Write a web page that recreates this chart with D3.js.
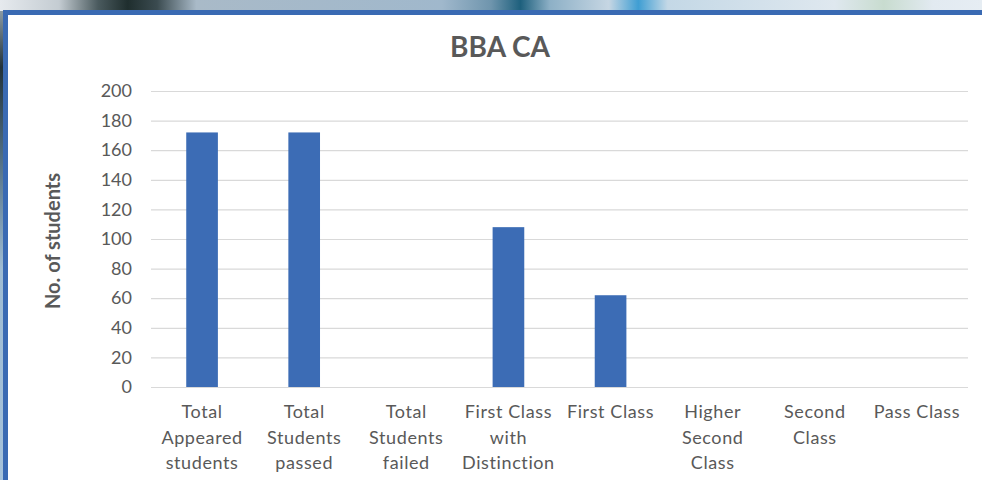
<!DOCTYPE html>
<html>
<head>
<meta charset="utf-8">
<script src="https://cdn.jsdelivr.net/npm/d3@7"></script>
<style>
  html, body { margin: 0; padding: 0; background: #fff; }
  svg { display: block; }
  text { font-family: Lato, "Open Sans", sans-serif; }
</style>
</head>
<body>
<svg id="chart" width="982" height="480"></svg>
<script>
// Results of the BBA CA batch
const categories = [
  ["Total", "Appeared", "students"],
  ["Total", "Students", "passed"],
  ["Total", "Students", "failed"],
  ["First Class", "with", "Distinction"],
  ["First Class"],
  ["Higher", "Second", "Class"],
  ["Second", "Class"],
  ["Pass Class"]
];
const students = [172, 172, 0, 108, 62, 0, 0, 0];
const yTicks = [0, 20, 40, 60, 80, 100, 120, 140, 160, 180, 200];
const chartTitle = "BBA CA";
const yTitle = "No. of students";

const svg = d3.select("#chart");
const W = 982, H = 480;

// window backdrop above the frame
const defs = svg.append("defs");
const g1 = defs.append("linearGradient").attr("id", "topStrip");
[[0, "#e6eaee"], [0.06, "#c4ccd2"], [0.1, "#4a5a5e"], [0.13, "#1f2e2e"], [0.16, "#3b4b50"],
 [0.2, "#a9bac8"], [0.45, "#a0b8cc"], [0.5, "#6f95ad"], [0.53, "#1e607d"], [0.56, "#8db0c6"],
 [0.62, "#c6d6e3"], [0.65, "#3f9ed3"], [0.68, "#c4d8e6"], [0.85, "#dfe8ef"], [0.9, "#c8dccf"],
 [0.95, "#e2eaf1"], [1, "#e6edf3"]]
  .forEach(([o, c]) => g1.append("stop").attr("offset", o).attr("stop-color", c));
const g2 = defs.append("linearGradient").attr("id", "leftStrip")
  .attr("x1", 0).attr("y1", 0).attr("x2", 0).attr("y2", 1);
[[0, "#8a9aa4"], [0.12, "#22323a"], [0.3, "#4d6a7e"], [0.55, "#9fbcd3"], [1, "#a6c2da"]]
  .forEach(([o, c]) => g2.append("stop").attr("offset", o).attr("stop-color", c));

svg.append("rect").attr("x", 0).attr("y", 0).attr("width", W).attr("height", 11).attr("fill", "url(#topStrip)");
svg.append("rect").attr("x", 0).attr("y", 11).attr("width", 3).attr("height", H - 11).attr("fill", "url(#leftStrip)");
// frame edges
svg.append("rect").attr("x", 3).attr("y", 10).attr("width", W - 3).attr("height", 5).attr("fill", "#3a6ab3");
svg.append("rect").attr("x", 3).attr("y", 10).attr("width", 5).attr("height", H - 10).attr("fill", "#3a6ab3");

const margin = { left: 151, right: 14, top: 91, bottom: 93 };
const plotW = W - margin.left - margin.right;
const plotH = H - margin.top - margin.bottom;

const x = d3.scaleBand().domain(d3.range(categories.length)).range([0, plotW]).paddingInner(0.69).paddingOuter(0.345);
const y = d3.scaleLinear().domain([0, 200]).range([plotH, 0]);

const plot = svg.append("g").attr("transform", `translate(${margin.left},${margin.top})`);

// gridlines and value axis
const yAxis = plot.append("g")
  .call(d3.axisLeft(y).tickValues(yTicks).tickSize(-plotW));
yAxis.select(".domain").remove();
yAxis.selectAll(".tick line").attr("stroke", "#d9d9d9").attr("stroke-width", 1.2);
yAxis.selectAll(".tick text").attr("fill", "#595959").style("font-size", "18px").attr("x", -19);

// bars
plot.selectAll("rect.bar").data(students).join("rect")
  .attr("class", "bar")
  .attr("x", (d, i) => x(i))
  .attr("y", d => y(d))
  .attr("width", x.bandwidth())
  .attr("height", d => plotH - y(d))
  .attr("fill", "#3c6cb5");

// category labels
const labels = plot.append("g").attr("transform", `translate(0,${plotH})`);
categories.forEach((lines, i) => {
  const cx = x(i) + x.bandwidth() / 2;
  const t = labels.append("text")
    .attr("x", cx)
    .attr("y", 31)
    .attr("text-anchor", "middle")
    .attr("fill", "#595959")
    .style("font-size", "18px")
    .style("letter-spacing", "0.6px");
  lines.forEach((ln, k) => t.append("tspan")
    .attr("x", cx)
    .attr("dy", k === 0 ? 0 : 25.5)
    .text(ln));
});

// titles
svg.append("text").attr("x", 500).attr("y", 57).attr("text-anchor", "middle")
  .attr("fill", "#595959").style("font-size", "28px").style("font-weight", "bold").text(chartTitle);
svg.append("text")
  .attr("transform", `translate(60,241) rotate(-90)`)
  .attr("text-anchor", "middle").attr("fill", "#595959")
  .style("font-size", "20px").style("font-weight", "bold").text(yTitle);
</script>
</body>
</html>
